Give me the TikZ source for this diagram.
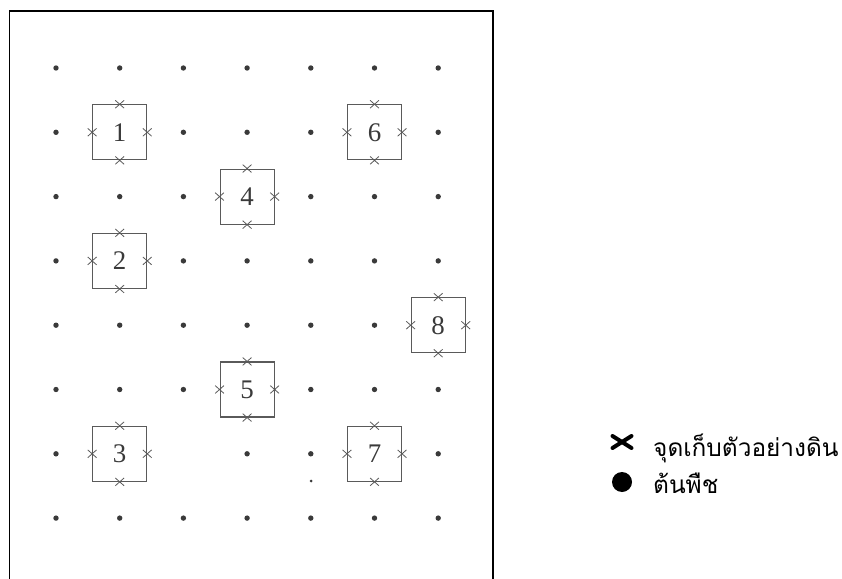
\documentclass[tikz,border=0pt]{standalone}
\usepackage{fontspec}
\usetikzlibrary{shapes.misc}
\newfontfamily\thaifont[Script=Thai]{Loma}
\newfontfamily\numfont{Liberation Serif}
\definecolor{boxgray}{HTML}{5A5A5A}
\definecolor{numgray}{HTML}{3A3A3A}
\definecolor{dotgray}{HTML}{3A3A3A}
\begin{document}
\begin{tikzpicture}[x=1bp,y=-1bp,
  plotbox/.style={draw=boxgray, line width=1.1bp, minimum width=54bp, minimum height=55bp,
    inner sep=0pt, text=numgray, font=\numfont\fontsize{27}{27}\selectfont},
  samplex/.style={cross out, draw=boxgray, line width=0.8bp, minimum width=8bp, minimum height=7bp, inner sep=0pt},
  plant/.style={circle, fill=dotgray, draw=none, minimum size=5.4bp, inner sep=0pt},
  legtext/.style={anchor=base west, inner sep=0pt, font=\thaifont\fontsize{24.5}{24.5}\selectfont}]
\useasboundingbox (0,0) rectangle (842,579);
\def\gx#1{56+63.7*(#1-1)}
\def\gy#1{68+64.3*(#1-1)}
% frame
\draw[line width=1.8bp] (9.5,579) -- (9.5,11) -- (493,11) -- (493,579);
% plants (dots)
\foreach \r/\cols in {1/{1,2,3,4,5,6,7}, 2/{1,3,4,5,7}, 3/{1,2,3,5,6,7}, 4/{1,3,4,5,6,7},
                      5/{1,2,3,4,5,6}, 6/{1,2,3,5,6,7}, 7/{1,4,5,7}, 8/{1,2,3,4,5,6,7}}{
  \foreach \c in \cols {
    \node[plant] (p-\r-\c) at ({\gx{\c}},{\gy{\r}}) {};
  }
}
\node[plant, minimum size=3bp] (stray) at (311,481) {};
% sample plots
\foreach \n/\c/\r in {1/2/2, 6/6/2, 4/4/3, 2/2/4, 8/7/5, 5/4/6, 3/2/7, 7/6/7}{
  \node[plotbox] (b\n) at ({\gx{\c}},{\gy{\r}}) {\n};
  \foreach \a in {north,south,east,west}
    \node[samplex] (x\n-\a) at (b\n.\a) {};
}
% legend
\node[cross out, draw=black, line width=4bp, line cap=round, minimum width=15bp, minimum height=8bp, inner sep=0pt] (lx) at (622,442) {};
\node[legtext] (lxt) at (653,456) {จุดเก็บตัวอย่างดิน};
\node[circle, fill=black, minimum size=20bp, inner sep=0pt] (lc) at (622,482) {};
\node[legtext] (lct) at (653,493) {ต้นพืช};
\end{tikzpicture}
\end{document}
